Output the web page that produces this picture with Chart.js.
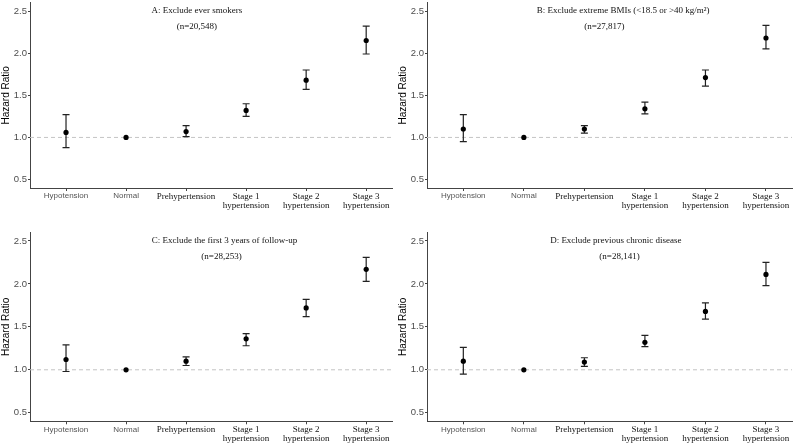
<!DOCTYPE html>
<html>
<head>
<meta charset="utf-8">
<script src="https://cdn.jsdelivr.net/npm/chart.js@4.4.0/dist/chart.umd.min.js"></script>
<style>
    html, body { margin: 0; padding: 0; background: #fff; }
    #wrap { position: relative; width: 800px; height: 443px; overflow: hidden; background: #fff; }
    #wrap canvas { position: absolute; }
</style>
</head>
<body>
<div id="wrap">
    <canvas id="panelA" width="400" height="220" style="left:0;top:0"></canvas>
    <canvas id="panelB" width="403" height="220" style="left:397px;top:0"></canvas>
    <canvas id="panelC" width="400" height="223" style="left:0;top:220px"></canvas>
    <canvas id="panelD" width="403" height="223" style="left:397px;top:220px"></canvas>
</div>
<script>
// Categories & ticks
const categories = ['Hypotension', 'Normal', 'Prehypertension',
    ['Stage 1', 'hypertension'], ['Stage 2', 'hypertension'], ['Stage 3', 'hypertension']];
const yTicks = [0.5, 1.0, 1.5, 2.0, 2.5];

// A: Exclude ever smokers
const hrA    = [1.06, 1.00, 1.07, 1.32, 1.68, 2.15];
const lowerA = [0.88, null, 1.01, 1.25, 1.57, 1.99];
const upperA = [1.27, null, 1.14, 1.40, 1.80, 2.32];

// B: Exclude extreme BMIs
const hrB    = [1.10, 1.00, 1.10, 1.34, 1.71, 2.18];
const lowerB = [0.95, null, 1.05, 1.28, 1.61, 2.05];
const upperB = [1.27, null, 1.14, 1.42, 1.80, 2.33];

// C: Exclude the first 3 years of follow-up
const hrC    = [1.12, 1.00, 1.10, 1.36, 1.72, 2.17];
const lowerC = [0.98, null, 1.05, 1.28, 1.62, 2.03];
const upperC = [1.29, null, 1.15, 1.42, 1.82, 2.31];

// D: Exclude previous chronic disease
const hrD    = [1.10, 1.00, 1.09, 1.32, 1.68, 2.11];
const lowerD = [0.95, null, 1.04, 1.27, 1.59, 1.98];
const upperD = [1.26, null, 1.14, 1.40, 1.78, 2.25];

const SANS = 'Liberation Sans, Arial, sans-serif';
const SERIF = 'Liberation Serif, Times New Roman, serif';

// error bars, reference line and the panel captions
function panelDecor(lower, upper, title, sample, titleX, sampleX) {
    return {
        id: 'panelDecor',
        beforeDatasetsDraw(chart) {
            const { ctx, chartArea, scales: { x, y } } = chart;
            const y1 = y.getPixelForValue(1);
            ctx.save();
            ctx.strokeStyle = '#c4c4c4';
            ctx.lineWidth = 1;
            ctx.setLineDash([4, 3]);
            ctx.beginPath();
            ctx.moveTo(chartArea.left, y1);
            ctx.lineTo(chartArea.right, y1);
            ctx.stroke();
            ctx.setLineDash([]);

            ctx.strokeStyle = '#222';
            ctx.lineWidth = 1.2;
            lower.forEach((lo, i) => {
                if (lo === null) return;
                const px = x.getPixelForValue(i);
                const pLo = y.getPixelForValue(lo);
                const pHi = y.getPixelForValue(upper[i]);
                ctx.beginPath();
                ctx.moveTo(px, pLo); ctx.lineTo(px, pHi);
                ctx.moveTo(px - 3.5, pLo); ctx.lineTo(px + 3.5, pLo);
                ctx.moveTo(px - 3.5, pHi); ctx.lineTo(px + 3.5, pHi);
                ctx.stroke();
            });
            ctx.restore();
        },
        afterDatasetsDraw(chart) {
            const { ctx, scales: { x, y } } = chart;
            ctx.save();
            ctx.fillStyle = '#111';
            ctx.font = '9px ' + SERIF;
            ctx.textAlign = 'center';
            ctx.textBaseline = 'middle';
            ctx.fillText(title, x.getPixelForValue(titleX), y.getPixelForValue(2.5));
            ctx.fillText(sample, x.getPixelForValue(sampleX), y.getPixelForValue(2.32));
            ctx.restore();
        }
    };
}

function makePanel(id, hr, lower, upper, title, sample, titleX, sampleX, padTop, xHeight) {
    new Chart(document.getElementById(id), {
        type: 'scatter',
        data: {
            datasets: [{
                data: hr.map((v, i) => ({ x: i, y: v })),
                pointRadius: 2.6,
                pointHoverRadius: 2.6,
                pointBackgroundColor: '#000',
                pointBorderWidth: 0
            }]
        },
        options: {
            responsive: false,
            animation: false,
            events: [],
            layout: { padding: { left: 0, right: 8, top: padTop, bottom: 0 } },
            plugins: { legend: { display: false }, tooltip: { enabled: false } },
            scales: {
                x: {
                    type: 'linear',
                    min: -0.6,
                    max: 5.43,
                    afterBuildTicks: s => { s.ticks = categories.map((c, i) => ({ value: i })); },
                    afterFit: s => { s.height = xHeight; s.paddingLeft = 0; s.paddingRight = 0; },
                    grid: { drawOnChartArea: false, drawTicks: true, tickLength: 3, color: '#444' },
                    border: { display: true, color: '#444', width: 1 },
                    ticks: {
                        autoSkip: false,
                        maxRotation: 0,
                        padding: 1,
                        callback: v => categories[v],
                        font: c => c.index < 2
                            ? { family: SANS, size: 8, lineHeight: 1.0 }
                            : { family: SERIF, size: 9, lineHeight: 1.0 },
                        color: c => c.index < 2 ? '#555' : '#111'
                    }
                },
                y: {
                    min: 0.4,
                    max: 2.6,
                    afterBuildTicks: s => { s.ticks = yTicks.map(v => ({ value: v })); },
                    afterFit: s => { s.width = 30; s.paddingTop = 0; s.paddingBottom = 0; },
                    grid: { drawOnChartArea: false, drawTicks: true, tickLength: 2, color: '#444' },
                    border: { display: true, color: '#444', width: 1 },
                    ticks: {
                        padding: 1,
                        color: '#4d4d4d',
                        font: { family: SANS, size: 9.5 },
                        callback: v => v.toFixed(1)
                    },
                    title: {
                        display: true,
                        text: 'Hazard Ratio',
                        color: '#000',
                        padding: 0,
                        font: { family: SANS, size: 10 }
                    }
                }
            }
        },
        plugins: [panelDecor(lower, upper, title, sample, titleX, sampleX)]
    });
}

makePanel('panelA', hrA, lowerA, upperA, 'A: Exclude ever smokers', '(n=20,548)', 2.18, 2.18, 0, 32);
makePanel('panelB', hrB, lowerB, upperB, 'B: Exclude extreme BMIs (<18.5 or >40 kg/m\u00B2)', '(n=27,817)', 2.64, 2.33, 0, 32);
makePanel('panelC', hrC, lowerC, upperC, 'C: Exclude the first 3 years of follow-up', '(n=28,253)', 2.64, 2.59, 12.4, 21.7);
makePanel('panelD', hrD, lowerD, upperD, 'D: Exclude previous chronic disease', '(n=28,141)', 2.52, 2.58, 12.4, 21.7);
</script>
</body>
</html>
